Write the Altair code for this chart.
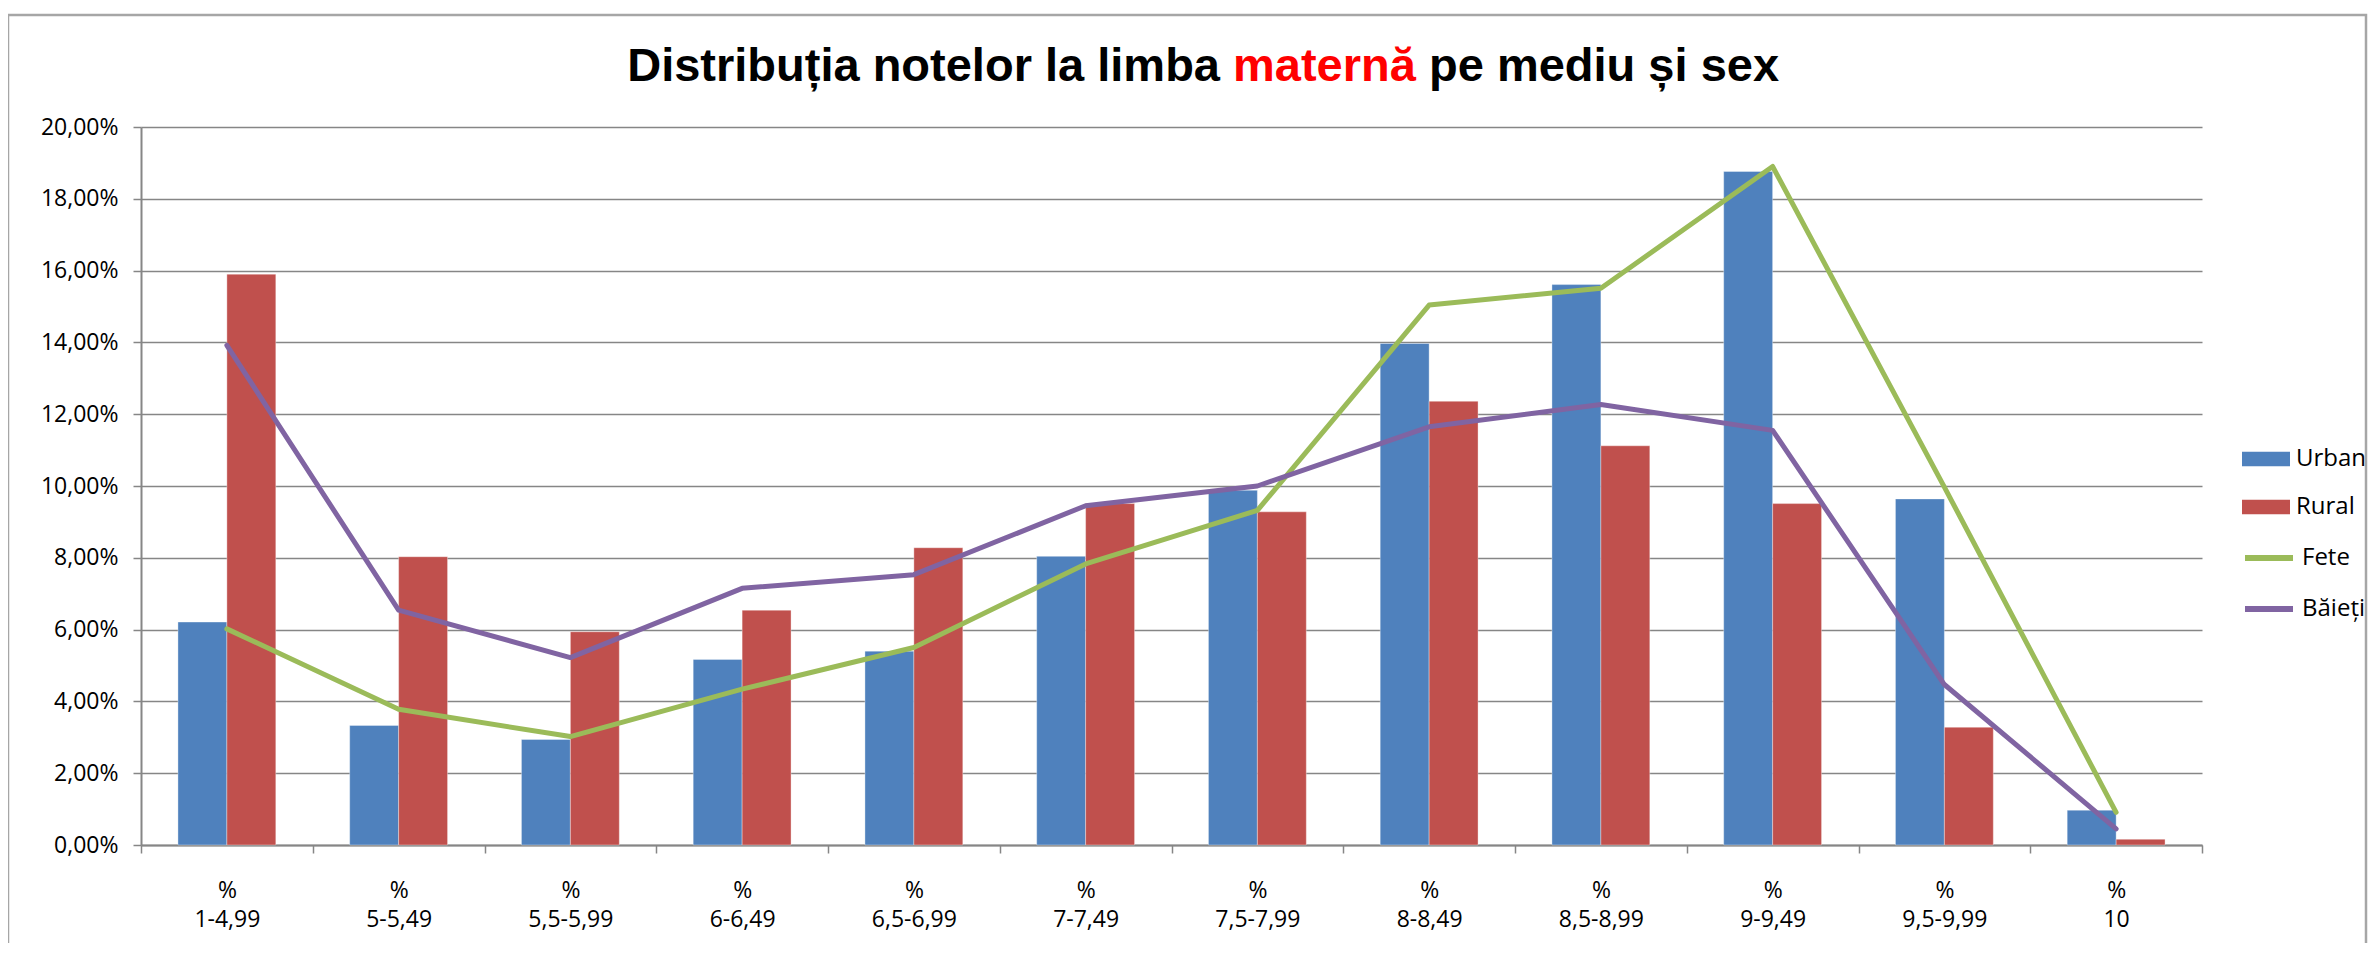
import altair as alt
import pandas as pd

categories = ["% 1-4,99", "% 5-5,49", "% 5,5-5,99", "% 6-6,49", "% 6,5-6,99", "% 7-7,49",
              "% 7,5-7,99", "% 8-8,49", "% 8,5-8,99", "% 9-9,49", "% 9,5-9,99", "% 10"]
urban = [6.21, 3.33, 2.94, 5.17, 5.40, 8.04, 9.88, 13.97, 15.61, 18.76, 9.64, 0.97]
rural = [15.90, 8.03, 5.94, 6.54, 8.28, 9.51, 9.28, 12.36, 11.12, 9.51, 3.28, 0.16]
fete = [6.02, 3.78, 3.02, 4.34, 5.50, 7.83, 9.32, 15.04, 15.51, 18.90, 9.97, 0.91]
baieti = [13.92, 6.54, 5.22, 7.15, 7.53, 9.45, 10.00, 11.65, 12.27, 11.55, 4.47, 0.45]
bar_series = ["Urban", "Rural"]
line_series = ["Fete", "Băieți"]
title_parts = ["Distribuția notelor la limba", "maternă", "pe mediu și sex"]
y_ticks = [0, 0.02, 0.04, 0.06, 0.08, 0.10, 0.12, 0.14, 0.16, 0.18, 0.20]

bars_df = pd.DataFrame(
    [{"cat": c, "idx": i, "serie": s, "val": v / 100}
     for s, vals in zip(bar_series, [urban, rural])
     for i, (c, v) in enumerate(zip(categories, vals))]
)
lines_df = pd.DataFrame(
    [{"cat": c, "idx": i, "serie": s, "val": v / 100}
     for s, vals in zip(line_series, [fete, baieti])
     for i, (c, v) in enumerate(zip(categories, vals))]
)

GRID = "#868686"
FONT = "Open Sans"
W, H = 2061, 718

x_enc = alt.X(
    "cat:N", sort=categories,
    scale=alt.Scale(paddingInner=0, paddingOuter=0),
    axis=alt.Axis(title=None, labelExpr="split(datum.label, ' ')", labelFont=FONT,
                  labelFontSize=23, labelColor="black", labelLineHeight=29,
                  labelPadding=26, tickSize=8, tickColor=GRID, tickWidth=1.5,
                  domainColor=GRID, domainWidth=2, tickBand="extent", labelAngle=0,
                  grid=False),
)
y_enc = alt.Y(
    "val:Q", scale=alt.Scale(domain=[0, 0.2], nice=False),
    axis=alt.Axis(title=None, values=y_ticks,
                  labelExpr="replace(format(datum.value, '.2%'), '.', ',')",
                  labelFont=FONT, labelFontSize=23, labelColor="black",
                  labelPadding=15, tickSize=8, tickColor=GRID, tickWidth=1.5,
                  domainColor=GRID, domainWidth=2, grid=True, gridColor=GRID,
                  gridWidth=1.5),
)

bars = alt.Chart(bars_df).mark_bar(strokeWidth=1, strokeOpacity=0.35, stroke="white").encode(
    x=x_enc,
    xOffset=alt.XOffset("serie:N", sort=bar_series,
                        scale=alt.Scale(paddingInner=0, paddingOuter=0.755)),
    y=y_enc,
    fill=alt.Fill("serie:N", sort=bar_series,
                  scale=alt.Scale(domain=bar_series, range=["#4F81BD", "#C0504D"]),
                  legend=alt.Legend(title=None, orient="none", legendX=2101, legendY=308,
                                    symbolType="M-1,-0.3L1,-0.3L1,0.3L-1,0.3Z",
                                    symbolSize=2304, symbolStrokeWidth=0,
                                    labelFont=FONT, labelFontSize=24, labelColor="black",
                                    labelOffset=6, rowPadding=12)),
)

lines = alt.Chart(lines_df).mark_line(strokeWidth=5, strokeJoin="round", strokeCap="round").encode(
    x=alt.X("cat:N", sort=categories),
    y=alt.Y("val:Q"),
    order=alt.Order("idx:Q"),
    stroke=alt.Stroke("serie:N", sort=line_series,
                      scale=alt.Scale(domain=line_series, range=["#9BBB59", "#8064A2"]),
                      legend=alt.Legend(title=None, orient="none", legendX=2101, legendY=404,
                                        symbolType="stroke", symbolSize=2304,
                                        symbolStrokeWidth=6,
                                        labelFont=FONT, labelFontSize=24, labelColor="black",
                                        labelOffset=6, rowPadding=12)),
)

def title_piece(text, x, align, color):
    return alt.Chart(pd.DataFrame({"t": [text]})).mark_text(
        font="Liberation Sans", fontWeight="bold", fontSize=47, align=align,
        baseline="alphabetic", color=color,
    ).encode(text="t:N", x=alt.value(x), y=alt.value(-46))

t1 = title_piece(title_parts[0], 1079, "right", "black")
t2 = title_piece(title_parts[1], 1092, "left", "#FF0000")
t3 = title_piece(title_parts[2], 1288, "left", "black")

border = alt.Chart(pd.DataFrame({"b": [1]})).mark_rect(
    fillOpacity=0, stroke="#a6a6a6", strokeWidth=2.5
).encode(x=alt.value(-133), x2=alt.value(2225), y=alt.value(-112), y2=alt.value(840))

chart = alt.layer(bars, lines, t1, t2, t3, border).resolve_scale(
    fill="independent", stroke="independent"
).properties(
    width=W, height=H,
    autosize=alt.AutoSizeParams(type="none"),
    padding={"left": 133, "top": 119, "right": 166, "bottom": 98},
).configure_view(strokeWidth=0)

chart.save("out.html", embed_options={"renderer": "svg", "actions": False})
